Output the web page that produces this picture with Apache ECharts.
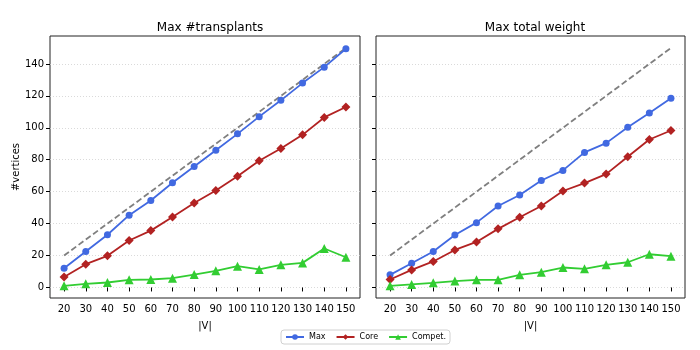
<!DOCTYPE html>
<html>
<head>
<meta charset="utf-8">
<script src="https://cdn.jsdelivr.net/npm/echarts@6/dist/echarts.min.js"></script>
<style>
  html, body { margin: 0; padding: 0; background: #fff; }
  #chart { width: 700px; height: 350px; }
</style>
</head>
<body>
<div id="chart"></div>
<script>
const sizes = [20, 30, 40, 50, 60, 70, 80, 90, 100, 110, 120, 130, 140, 150];
const yTicks = [0, 20, 40, 60, 80, 100, 120, 140];

// left: max #transplants
const maxTransplants = [12, 22.5, 33, 45.3, 54.5, 65.6, 75.8, 86, 96.2, 107, 117.2, 128, 138, 149.5];
const coreTransplants = [6.5, 14.6, 19.8, 29.4, 35.6, 44.2, 52.9, 60.7, 69.6, 79.4, 87, 95.6, 106.5, 113];
const competTransplants = [1, 2.3, 3.1, 4.8, 5, 5.8, 8.1, 10.4, 13.3, 11.3, 14.2, 15.4, 24.4, 18.9];

// right: max total weight
const maxWeight = [7.9, 15.2, 22.5, 32.9, 40.6, 51, 57.9, 67, 73.3, 84.6, 90.4, 100.4, 109.2, 118.5];
const coreWeight = [5, 11, 16.3, 23.5, 28.5, 36.7, 44, 51, 60.4, 65.4, 71, 81.9, 92.7, 98.3];
const competWeight = [1, 1.9, 2.9, 4, 4.8, 4.8, 7.9, 9.6, 12.5, 11.7, 14.2, 15.8, 20.8, 19.6];

const titles = ["Max #transplants", "Max total weight"];
const seriesNames = ["Max", "Core", "Compet."];

const font = "DejaVu Sans";
const pair = (ys) => sizes.map((x, i) => [x, ys[i]]);

function xAxisFor(idx) {
  return {
    type: "value",
    gridIndex: idx,
    min: 13.5,
    max: 156.5,
    name: "|V|",
    nameLocation: "middle",
    nameGap: 23,
    nameTextStyle: { fontFamily: font, fontSize: 10, color: "#000" },
    axisLine: { show: false },
    axisTick: { show: true, inside: false, length: 4, customValues: sizes, lineStyle: { color: "#000" } },
    axisLabel: { customValues: sizes, fontFamily: font, fontSize: 10, color: "#000", margin: 6 },
    splitLine: { show: false },
  };
}

function yAxisFor(idx) {
  return {
    type: "value",
    gridIndex: idx,
    min: -6.6,
    max: 157.5,
    name: idx === 0 ? "#vertices" : "",
    nameLocation: "middle",
    nameGap: 29,
    nameTextStyle: { fontFamily: font, fontSize: 10, color: "#000" },
    axisLine: { show: false },
    axisTick: { show: true, inside: false, length: 4, customValues: yTicks, lineStyle: { color: "#000" } },
    axisLabel: { show: idx === 0, customValues: yTicks, fontFamily: font, fontSize: 10, color: "#000", margin: 6 },
    splitLine: { show: true, lineStyle: { color: "#d0d0d0", type: [1, 2], width: 0.8 } },
  };
}

function lineSeries(idx, name, ys, color, symbol, size) {
  return {
    type: "line",
    name: name,
    xAxisIndex: idx,
    yAxisIndex: idx,
    data: pair(ys),
    symbol: symbol,
    symbolSize: size,
    showSymbol: true,
    color: color,
    lineStyle: { color: color, width: 1.8 },
    itemStyle: { color: color },
    z: 3,
  };
}

function refSeries(idx) {
  return {
    type: "line",
    name: "ref",
    xAxisIndex: idx,
    yAxisIndex: idx,
    data: pair(sizes),
    symbol: "none",
    lineStyle: { color: "#7f7f7f", width: 1.8, type: [6, 3] },
    z: 2,
  };
}

const colors = ["#4169E1", "#B22222", "#32CD32"];
const symbols = ["circle", "diamond", "triangle"];
const symSizes = [7, 9, 9];

const panels = [
  [maxTransplants, coreTransplants, competTransplants],
  [maxWeight, coreWeight, competWeight],
];

const series = [];
panels.forEach((vals, idx) => {
  series.push(refSeries(idx));
  vals.forEach((ys, k) => {
    series.push(lineSeries(idx, seriesNames[k], ys, colors[k], symbols[k], symSizes[k]));
  });
});

const chart = echarts.init(document.getElementById("chart"), null, { renderer: "canvas" });
chart.setOption({
  animation: false,
  backgroundColor: "#fff",
  title: [
    { text: titles[0], left: 205, top: 17, textAlign: "center",
      textStyle: { fontFamily: font, fontSize: 12, fontWeight: "normal", color: "#000" } },
    { text: titles[1], left: 530, top: 17, textAlign: "center",
      textStyle: { fontFamily: font, fontSize: 12, fontWeight: "normal", color: "#000" } },
  ],
  grid: [
    { left: 50, right: 340, top: 36, bottom: 52, show: true, borderColor: "#222", borderWidth: 1, backgroundColor: "transparent" },
    { left: 376, right: 15, top: 36, bottom: 52, show: true, borderColor: "#222", borderWidth: 1, backgroundColor: "transparent" },
  ],
  xAxis: [xAxisFor(0), xAxisFor(1)],
  yAxis: [yAxisFor(0), yAxisFor(1)],
  legend: {
    data: seriesNames,
    left: 281,
    top: 330,
    itemWidth: 18,
    itemHeight: 7,
    itemGap: 10,
    padding: [3, 4],
    borderColor: "#d0d0d0",
    borderWidth: 1,
    borderRadius: 3,
    textStyle: { fontFamily: font, fontSize: 8, color: "#000" },
  },
  series: series,
});
</script>
</body>
</html>
